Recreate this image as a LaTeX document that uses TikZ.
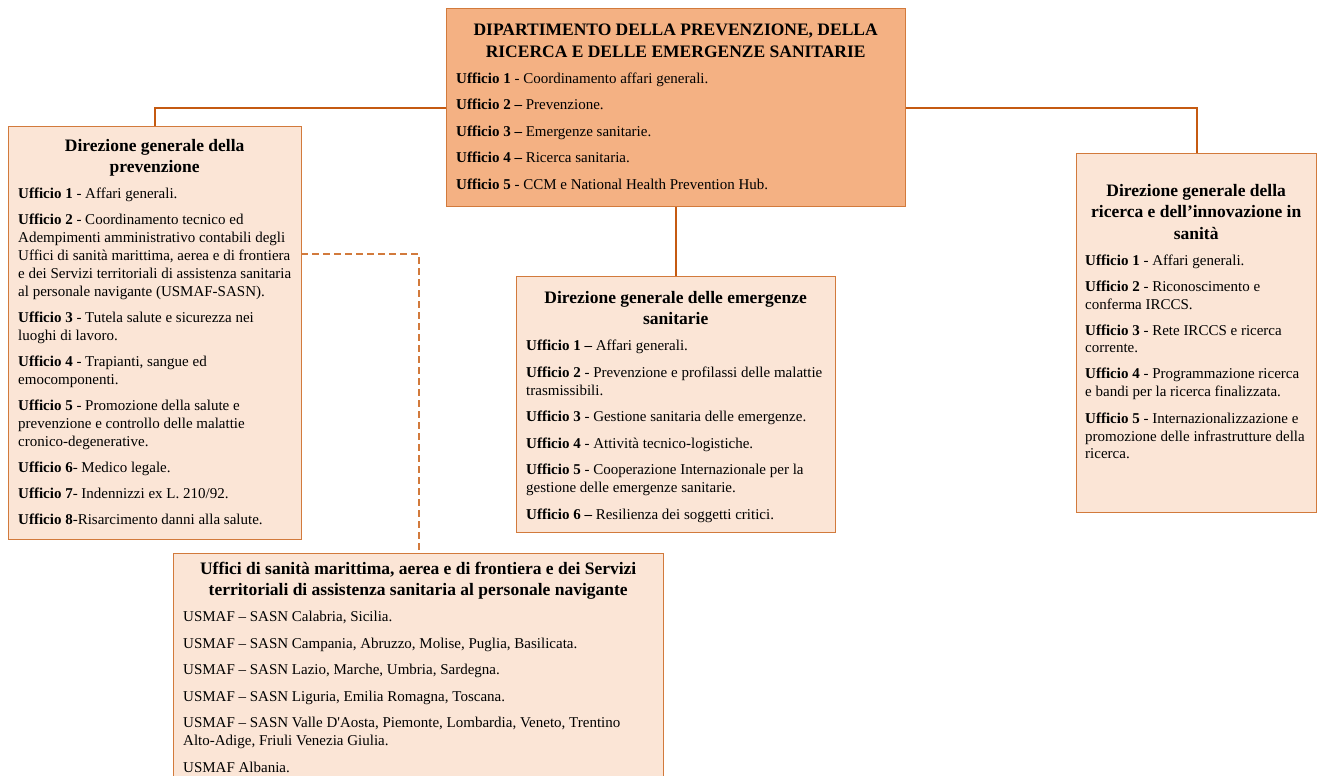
\documentclass[tikz,border=0pt]{standalone}
\usepackage{fontspec}
\setmainfont{Liberation Serif}
\usetikzlibrary{calc}
\definecolor{linea}{HTML}{C55A11}
\definecolor{bordo}{HTML}{D27A3C}
\definecolor{scuro}{HTML}{F4B183}
\definecolor{chiaro}{HTML}{FBE5D6}
\newcommand{\titolo}[1]{{\centering\fontsize{17.5}{21.5}\selectfont\bfseries #1\par}\vskip 8pt}
\begin{document}
\begin{tikzpicture}[x=1pt,y=-1pt]
		\tikzstyle{box}=[draw=bordo, line width=1.2pt, anchor=north west, inner sep=0pt, fill=chiaro]
		\tikzstyle{testo}=[anchor=base west, inner sep=0pt, align=flush left, font=\fontsize{15}{18}\selectfont]
		\tikzstyle{conn}=[draw=linea, line width=1.9pt]
		\useasboundingbox (0,0) rectangle (1318,776);
		\clip (0,0) rectangle (1318,776);

		% riquadri
		\node[box, fill=scuro, minimum width=459, minimum height=198] (dip) at (446,8) {};
		\node[box, minimum width=293, minimum height=413] (dgp) at (8,126) {};
		\node[box, minimum width=319, minimum height=256] (dge) at (516,276) {};
		\node[box, minimum width=240, minimum height=359] (dgr) at (1076,153) {};
		\node[box, minimum width=490, minimum height=260] (usm) at (173,553) {};

		% collegamenti
		\draw[conn] (dip.west) -| (dgp.north);
		\draw[conn] (dip.east) -| (dgr.north);
		\draw[conn] (dip.south) -- (dge.north);
		\coordinate (usmaf) at (301,254);
		\draw[conn, draw=bordo, line width=2pt, dash pattern=on 7pt off 4pt] (usmaf) -| (usm.north);

		% testi
		\node[testo, text width=439] (dip-t) at ($(dip.north west)+(10,28)$) {%
			\titolo{DIPARTIMENTO DELLA PREVENZIONE, DELLA\\ RICERCA E DELLE EMERGENZE SANITARIE}
			\textbf{Ufficio 1} - Coordinamento affari generali.\\[8.5pt]
			\textbf{Ufficio 2 --} Prevenzione.\\[8.5pt]
			\textbf{Ufficio 3 --} Emergenze sanitarie.\\[8.5pt]
			\textbf{Ufficio 4 --} Ricerca sanitaria.\\[8.5pt]
			\textbf{Ufficio 5} - CCM e National Health Prevention Hub.};

		\node[testo, text width=273] (dgp-t) at ($(dgp.north west)+(10,25)$) {%
			\titolo{Direzione generale della\\ prevenzione}
			\textbf{Ufficio 1} - Affari generali.\\[8pt]
			\textbf{Ufficio 2} - Coordinamento tecnico ed\\ Adempimenti amministrativo contabili degli\\ Uffici di sanità marittima, aerea e di frontiera\\ e dei Servizi territoriali di assistenza sanitaria\\ al personale navigante (USMAF-SASN).\\[8pt]
			\textbf{Ufficio 3} - Tutela salute e sicurezza nei\\ luoghi di lavoro.\\[8pt]
			\textbf{Ufficio 4} - Trapianti, sangue ed\\ emocomponenti.\\[8pt]
			\textbf{Ufficio 5} - Promozione della salute e\\ prevenzione e controllo delle malattie\\ cronico-degenerative.\\[8pt]
			\textbf{Ufficio 6}- Medico legale.\\[8pt]
			\textbf{Ufficio 7}- Indennizzi ex L. 210/92.\\[8pt]
			\textbf{Ufficio 8}-Risarcimento danni alla salute.};

		\node[testo, text width=299] (dge-t) at ($(dge.north west)+(10,27)$) {%
			\titolo{Direzione generale delle emergenze\\ sanitarie}
			\textbf{Ufficio 1 --} Affari generali.\\[8.5pt]
			\textbf{Ufficio 2} - Prevenzione e profilassi delle malattie\\ trasmissibili.\\[8.5pt]
			\textbf{Ufficio 3} - Gestione sanitaria delle emergenze.\\[8.5pt]
			\textbf{Ufficio 4} - Attività tecnico-logistiche.\\[8.5pt]
			\textbf{Ufficio 5} - Cooperazione Internazionale per la\\ gestione delle emergenze sanitarie.\\[8.5pt]
			\textbf{Ufficio 6 --} Resilienza dei soggetti critici.};

		\node[testo, text width=222] (dgr-t) at ($(dgr.north west)+(9,43)$) {%
			\titolo{Direzione generale della\\ ricerca e dell’innovazione in\\ sanità}
			\textbf{Ufficio 1} - Affari generali.\\[8pt]
			\textbf{Ufficio 2} - Riconoscimento e\\ conferma IRCCS.\\[8pt]
			\textbf{Ufficio 3} - Rete IRCCS e ricerca\\ corrente.\\[8pt]
			\textbf{Ufficio 4} - Programmazione ricerca\\ e bandi per la ricerca finalizzata.\\[8pt]
			\textbf{Ufficio 5} - Internazionalizzazione e\\ promozione delle infrastrutture della\\ ricerca.};

		\node[testo, text width=470] (usm-t) at ($(usm.north west)+(10,21)$) {%
			\titolo{Uffici di sanità marittima, aerea e di frontiera e dei Servizi\\ territoriali di assistenza sanitaria al personale navigante}
			USMAF -- SASN Calabria, Sicilia.\\[8.5pt]
			USMAF -- SASN Campania, Abruzzo, Molise, Puglia, Basilicata.\\[8.5pt]
			USMAF -- SASN Lazio, Marche, Umbria, Sardegna.\\[8.5pt]
			USMAF -- SASN Liguria, Emilia Romagna, Toscana.\\[8.5pt]
			USMAF -- SASN Valle D\textquotesingle Aosta, Piemonte, Lombardia, Veneto, Trentino\\ Alto-Adige, Friuli Venezia Giulia.\\[8.5pt]
			USMAF Albania.};
	\end{tikzpicture}
\end{document}
